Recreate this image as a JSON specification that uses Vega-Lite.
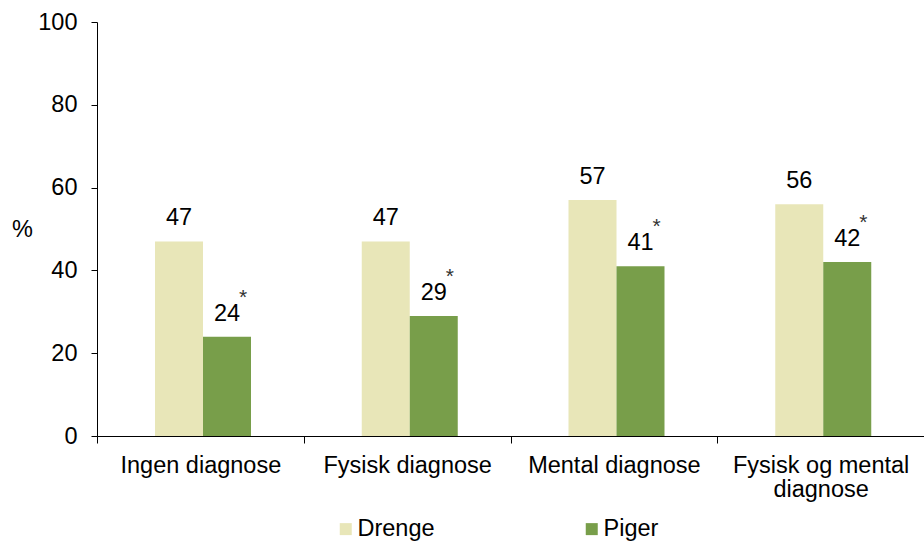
{
  "$schema": "https://vega.github.io/schema/vega-lite/v6.json",
  "autosize": "none",
  "width": 827,
  "height": 414,
  "padding": {"left": 97, "top": 22, "right": 0, "bottom": 109},
  "background": "white",
  "config": {
    "font": "Liberation Sans",
    "view": {"stroke": null},
    "axis": {"grid": false, "domainColor": "black", "tickColor": "black", "labelColor": "black", "labelFont": "Liberation Sans", "labelFontSize": 23.5, "titleFont": "Liberation Sans", "titleFontWeight": "normal", "titleFontSize": 23.5, "titleColor": "black"}
  },
  "data": {
    "values": [
      {"kategori": "Ingen diagnose", "køn": "Drenge", "pct": 47, "sig": ""},
      {"kategori": "Ingen diagnose", "køn": "Piger", "pct": 24, "sig": "*"},
      {"kategori": "Fysisk diagnose", "køn": "Drenge", "pct": 47, "sig": ""},
      {"kategori": "Fysisk diagnose", "køn": "Piger", "pct": 29, "sig": "*"},
      {"kategori": "Mental diagnose", "køn": "Drenge", "pct": 57, "sig": ""},
      {"kategori": "Mental diagnose", "køn": "Piger", "pct": 41, "sig": "*"},
      {"kategori": "Fysisk og mental diagnose", "køn": "Drenge", "pct": 56, "sig": ""},
      {"kategori": "Fysisk og mental diagnose", "køn": "Piger", "pct": 42, "sig": "*"}
    ]
  },
  "encoding": {
    "x": {
      "field": "kategori", "type": "nominal", "sort": null,
      "scale": {"paddingInner": 0, "paddingOuter": 0},
      "axis": {
        "title": null, "labelAngle": 0, "tickBand": "extent", "tickSize": 7, "labelPadding": 10,
        "labelLimit": 300, "labelLineHeight": 24,
        "labelExpr": "datum.label == 'Fysisk og mental diagnose' ? ['Fysisk og mental', 'diagnose'] : datum.label"
      }
    },
    "xOffset": {"field": "køn", "type": "nominal", "scale": {"range": [58, 154], "paddingInner": 0, "paddingOuter": 0}},
    "y": {
      "field": "pct", "type": "quantitative",
      "scale": {"domain": [0, 100], "nice": false},
      "axis": {"values": [0, 20, 40, 60, 80, 100], "tickSize": 6, "labelPadding": 14, "title": "%", "titleAngle": 0, "titleAlign": "center", "titleBaseline": "middle", "titleX": -75, "titleY": 207}
    }
  },
  "layer": [
    {
      "mark": {"type": "bar"},
      "encoding": {
        "color": {
          "field": "køn", "type": "nominal",
          "scale": {"domain": ["Drenge", "Piger"], "range": ["#E8E6B8", "#789E4A"]},
          "legend": {"title": null, "orient": "none", "legendX": 237, "legendY": 495, "direction": "horizontal", "symbolType": "square", "symbolSize": 144, "symbolStrokeWidth": 0, "labelFontSize": 23.5, "labelFont": "Liberation Sans", "labelColor": "black", "columnPadding": 145, "labelOffset": 0}
        }
      }
    },
    {
      "mark": {"type": "text", "fontSize": 23.5, "color": "black", "baseline": "alphabetic", "dy": -16, "font": "Liberation Sans"},
      "encoding": {"text": {"field": "pct", "type": "quantitative"}}
    },
    {
      "mark": {"type": "text", "fontSize": 21, "color": "#333333", "baseline": "alphabetic", "dy": -33, "dx": 16, "font": "Liberation Sans"},
      "encoding": {"text": {"field": "sig", "type": "nominal"}}
    }
  ]
}
